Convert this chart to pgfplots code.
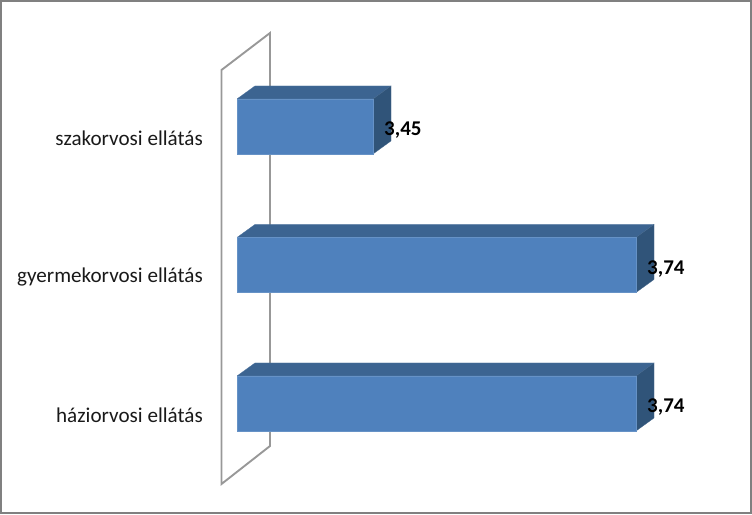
\documentclass[border=0pt]{standalone}
\usepackage{pgfplots}
\pgfplotsset{compat=1.18}
\usepackage{fontspec}
\setmainfont{Carlito}
\definecolor{barfront}{HTML}{4F81BD}
\definecolor{bartop}{HTML}{3C6491}
\definecolor{barside}{HTML}{305479}
\definecolor{baredge}{HTML}{9DB9DC}
\definecolor{wallc}{HTML}{989898}
\definecolor{framec}{HTML}{808080}
\begin{document}
\begin{tikzpicture}[x=1pt,y=1pt]
\path[use as bounding box] (0,0) rectangle (752,514);
% background: frame and wall, in pixel coordinates
\begin{axis}[
  at={(0pt,0pt)}, anchor=south west,
  scale only axis, width=752pt, height=514pt,
  xmin=0, xmax=752, ymin=0, ymax=514, y dir=reverse,
  hide axis, clip=false]
  \addplot[draw=framec, line width=2.4pt, mark=none] coordinates {(1.2,1.2) (750.8,1.2) (750.8,512.8) (1.2,512.8)} --cycle;
  \addplot[draw=wallc, line width=1.9pt, mark=none] coordinates {(221.5,70) (270,33) (270,446) (221.5,484)} --cycle;
\end{axis}
% bars
\begin{axis}[
  at={(237pt,0pt)}, anchor=south west,
  scale only axis, width=463pt, height=514pt,
  xmin=3.30, xmax=3.8105, ymin=-0.798, ymax=2.913,
  axis line style={draw=none}, major tick style={draw=none},
  xtick=\empty,
  ytick={0,1,2},
  yticklabels={háziorvosi ellátás,gyermekorvosi ellátás,szakorvosi ellátás},
  yticklabel style={anchor=east, inner sep=0pt, xshift=-34pt, yshift=-12pt, font=\fontsize{21.1}{23}\selectfont, text=black!90},
  tick align=outside, major tick length=0pt,
  y axis line style={draw=none},
  clip=true]
  % top faces
  \addplot[fill=bartop, draw=bartop!80!baredge, line width=0.3pt, mark=none] coordinates {(3.30,0.1986) (3.74,0.1986) (3.7598,0.2925) (3.3198,0.2925)} --cycle;
  \addplot[fill=bartop, draw=bartop!80!baredge, line width=0.3pt, mark=none] coordinates {(3.30,1.1986) (3.74,1.1986) (3.7598,1.2925) (3.3198,1.2925)} --cycle;
  \addplot[fill=bartop, draw=bartop!80!baredge, line width=0.3pt, mark=none] coordinates {(3.30,2.1986) (3.45,2.1986) (3.4698,2.2925) (3.3198,2.2925)} --cycle;
  % side faces
  \addplot[fill=barside, draw=barside!80!baredge, line width=0.3pt, mark=none] coordinates {(3.74,-0.1986) (3.7598,-0.1047) (3.7598,0.2925) (3.74,0.1986)} --cycle;
  \addplot[fill=barside, draw=barside!80!baredge, line width=0.3pt, mark=none] coordinates {(3.74,0.8014) (3.7598,0.8953) (3.7598,1.2925) (3.74,1.1986)} --cycle;
  \addplot[fill=barside, draw=barside!80!baredge, line width=0.3pt, mark=none] coordinates {(3.45,1.8014) (3.4698,1.8953) (3.4698,2.2925) (3.45,2.1986)} --cycle;
  % front faces
  \addplot[xbar, bar width=55pt, bar shift=0pt, fill=barfront, draw=barfront!70!baredge, line width=0.3pt,
    point meta=x,
    nodes near coords,
    every node near coord/.append style={anchor=west, xshift=11pt, yshift=-4pt, inner sep=0pt,
      font=\fontsize{21}{23}\selectfont\bfseries, text=black,
      /pgf/number format/assume math mode=true,
      /pgf/number format/fixed, /pgf/number format/fixed zerofill, /pgf/number format/precision=2,
      /pgf/number format/use comma}]
    coordinates {(3.74,0) (3.74,1) (3.45,2)};
\end{axis}
\end{tikzpicture}
\end{document}
